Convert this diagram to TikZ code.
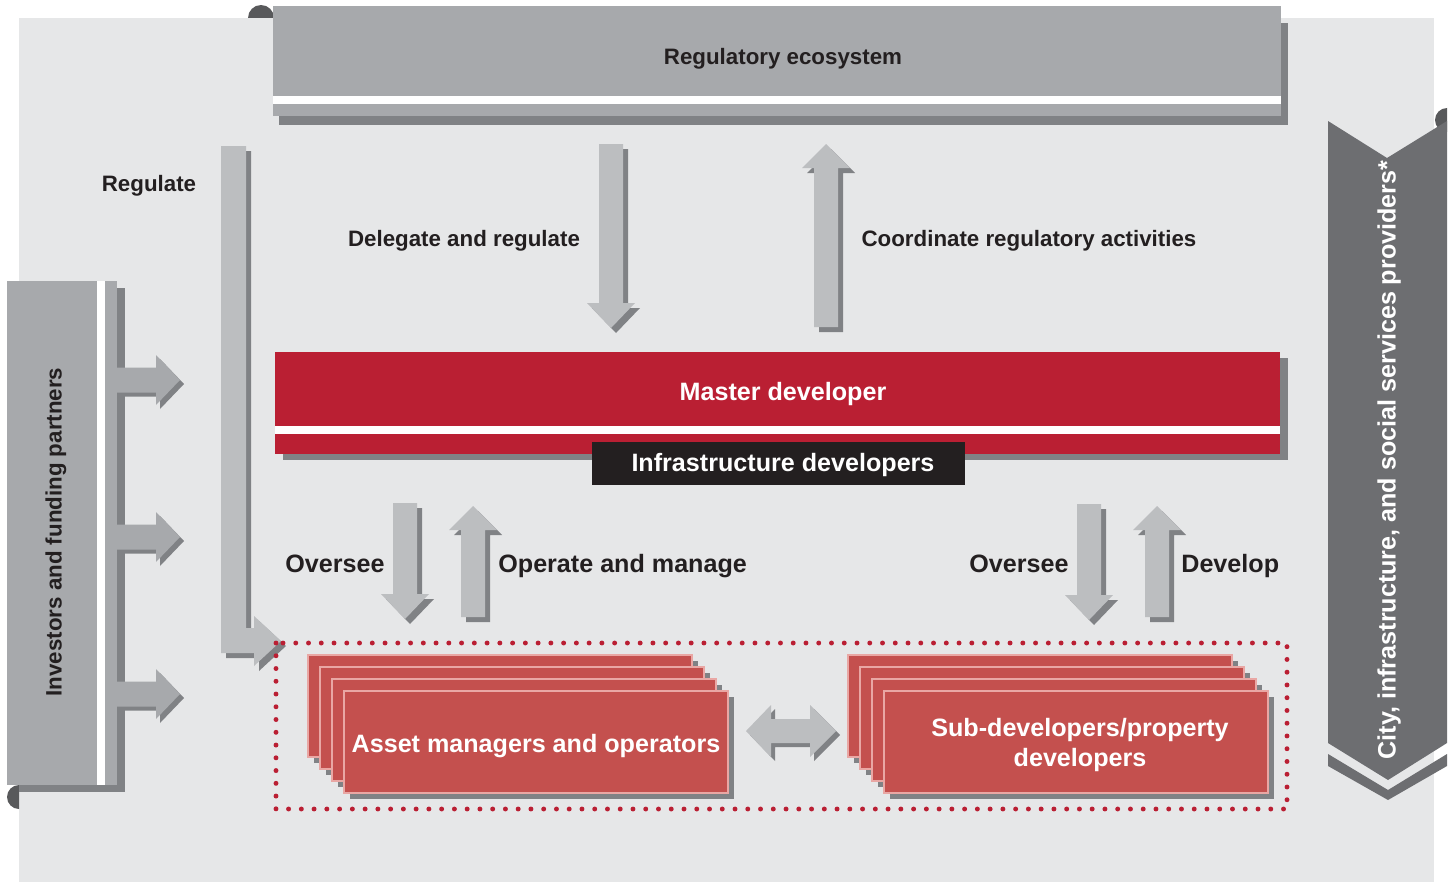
\documentclass[tikz,border=0pt]{standalone}
\usepackage{fontspec}
\setmainfont{Liberation Sans}
\usepackage{tikz}

\definecolor{bggray}{HTML}{E6E7E8}
\definecolor{boxgray}{HTML}{A7A9AC}
\definecolor{arrgray}{HTML}{BCBEC0}
\definecolor{shadegray}{HTML}{808285}
\definecolor{curlgray}{HTML}{58595B}
\definecolor{bandgray}{HTML}{6D6E71}
\definecolor{mdred}{HTML}{BA1F33}
\definecolor{stackred}{HTML}{C4504E}
\definecolor{stackline}{HTML}{E9A7A4}
\definecolor{inkblack}{HTML}{231F20}

% block arrows, pixel units: x, top, tip
\newcommand{\blkdown}[3]{%
  \foreach \s/\c in {5/shadegray,0/arrgray}
    \fill[\c,shift={(\s,\s)}] ({#1-12},{#2}) -- ({#1+12},{#2}) -- ({#1+12},{#3-25})
      -- ({#1+24},{#3-25}) -- ({#1},{#3}) -- ({#1-24},{#3-25}) -- ({#1-12},{#3-25}) -- cycle;
}
% x, tip, bottom
\newcommand{\blkup}[3]{%
  \foreach \s/\c in {5/shadegray,0/arrgray}
    \fill[\c,shift={(\s,\s)}] ({#1-12},{#3}) -- ({#1+12},{#3}) -- ({#1+12},{#2+24})
      -- ({#1+24},{#2+24}) -- ({#1},{#2}) -- ({#1-24},{#2+24}) -- ({#1-12},{#2+24}) -- cycle;
}
% y of the investor arrows
\newcommand{\blkright}[1]{%
  \foreach \s/\c in {4/shadegray,0/boxgray}
    \fill[\c,shift={(\s-1,\s)}] (117,{#1-12.5}) -- (157,{#1-12.5}) -- (157,{#1-25})
      -- (181,{#1}) -- (157,{#1+25}) -- (157,{#1+12.5}) -- (117,{#1+12.5}) -- cycle;
}

\begin{document}
\begin{tikzpicture}[x=0.02cm,y=-0.02cm,
   lbl/.style={font=\fontsize{12.7}{15}\selectfont\bfseries,text=inkblack,inner sep=0pt},
   biglbl/.style={font=\fontsize{14.3}{17}\selectfont\bfseries,inner sep=0pt},
   dots/.style={draw=mdred,line width=2.8pt,dash pattern=on 0pt off 7.26pt,line cap=round}
   ]
  \useasboundingbox (0,0) rectangle (1453,882);
  \fill[white] (0,0) rectangle (1453,882);
  \fill[bggray] (19,18) rectangle (1434,882);

  % -- regulatory ecosystem
  \fill[curlgray] (248,18) arc[start angle=180,end angle=0,radius=0.26cm] -- cycle;
  \fill[shadegray] (279,23) rectangle (1288,125);
  \fill[boxgray] (273,6) rectangle (1281,116);
  \fill[white] (273,96) rectangle (1281,104);
  \node[lbl,anchor=base] at (783,65) (reg) {Regulatory ecosystem};

  % -- investors
  \fill[curlgray] (19,785) arc[start angle=90,end angle=270,radius=0.24cm] -- cycle;
  \fill[shadegray] (19,288) rectangle (125,792);
  \fill[boxgray] (7,281) rectangle (117,785);
  \fill[white] (97,281) rectangle (105,785);
  \node[lbl,rotate=90] at (56,532) (inv) {Investors and funding partners};
  \foreach \y in {380,537,694}
    \blkright{\y};

  % -- regulate
  \foreach \s/\c in {5/shadegray,0/arrgray}
    \fill[\c,shift={(\s,\s)}] (221,146) -- (246,146) -- (246,628) -- (254,628) -- (254,616)
      -- (281,641) -- (254,666) -- (254,653) -- (221,653) -- cycle;
  \node[lbl,anchor=base] at (149,191) (regl) {Regulate};

  % -- top arrows
  \blkdown{611}{144}{328}
  \blkup{826}{144}{327}
  \node[lbl,anchor=base] at (464,246) (dlg) {Delegate and regulate};
  \node[lbl,anchor=base] at (1029,246) (crd) {Coordinate regulatory activities};

  % -- master developer
  \fill[shadegray] (283,358) rectangle (1288,460);
  \fill[mdred] (275,352) rectangle (1280,454);
  \fill[white] (275,426) rectangle (1280,434);
  \node[biglbl,text=white,anchor=base] at (783,400) (md) {Master developer};
  \fill[inkblack] (592,442) rectangle (965,485);
  \node[biglbl,text=white,anchor=base] at (783,471) (infra) {Infrastructure developers};

  % -- lower arrows
  \blkdown{405}{503}{619}
  \blkup{473}{506}{617}
  \blkdown{1089}{504}{620}
  \blkup{1157}{506}{617}
  \node[biglbl,text=inkblack,anchor=base] at (335,572) (ovl) {Oversee};
  \node[biglbl,text=inkblack,anchor=base west] at (498,572) (opm) {Operate and manage};
  \node[biglbl,text=inkblack,anchor=base] at (1019,572) (ovr) {Oversee};
  \node[biglbl,text=inkblack,anchor=base west] at (1181,572) (dev) {Develop};

  % -- stacked boxes
  \draw[dots] (276,643) rectangle (1287,809);
  \foreach \x in {308,848}
    \foreach \o in {0,12,24,36} {
      \fill[shadegray] ({\x+\o+6},{655+\o+6}) rectangle ({\x+384+\o+6},{757+\o+6});
      \filldraw[fill=stackred,draw=stackline,line width=0.6pt] ({\x+\o},{655+\o}) rectangle ({\x+384+\o},{757+\o});
    }
  \node[biglbl,text=white,anchor=base] at (536,752) (asset) {Asset managers and operators};
  \node[biglbl,text=white,align=center] at (1080,745) (subdev) {Sub-developers/property\\developers};
  \foreach \s/\c in {4/shadegray,0/arrgray}
    \fill[\c,shift={(\s-1,\s)}] (747,731) -- (772,705) -- (772,719) -- (811,719) -- (811,705)
      -- (837,731) -- (811,757) -- (811,743) -- (772,743) -- (772,757) -- cycle;

  % -- city banner
  \fill[curlgray] (1447,108) arc[start angle=90,end angle=270,radius=0.24cm] -- cycle;
  \fill[bandgray] (1328,121) -- (1387,158) -- (1447,121) -- (1447,743) -- (1388,780) -- (1328,743) -- cycle;
  \fill[bandgray] (1328,754) -- (1388,790) -- (1447,754) -- (1447,766) -- (1388,800) -- (1328,766) -- cycle;
  \node[biglbl,text=white,rotate=90] at (1389,460) (city) {City, infrastructure, and social services providers*};

\end{tikzpicture}
\end{document}
